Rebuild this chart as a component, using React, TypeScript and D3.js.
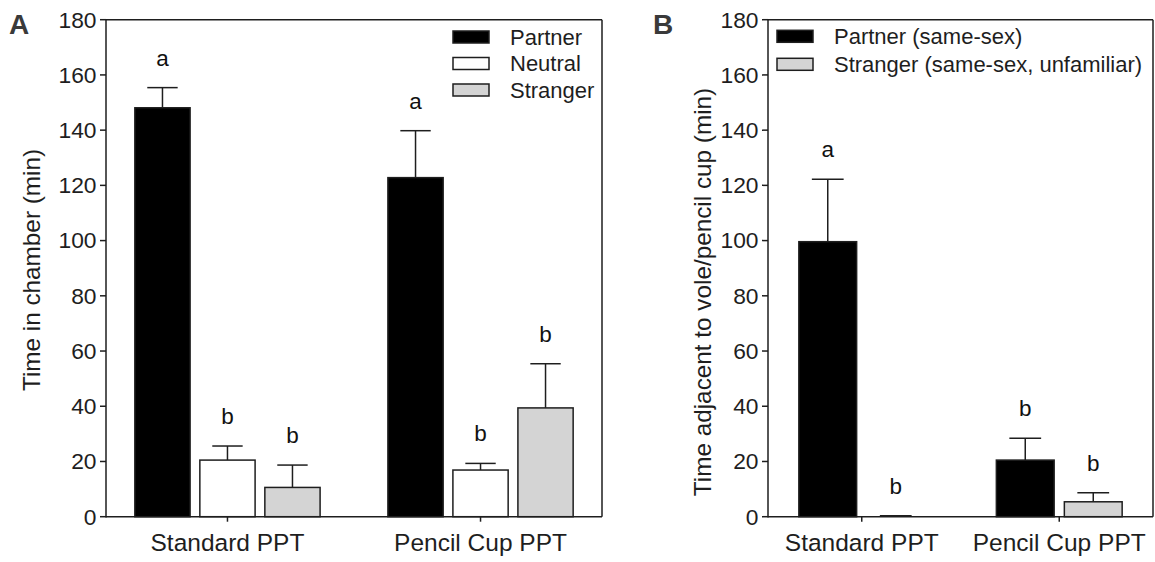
import React from "react";
import * as d3 from "d3";

// ---------- data ----------
const categories = ["Standard PPT", "Pencil Cup PPT"];
const yTicks = [0, 20, 40, 60, 80, 100, 120, 140, 160, 180];

// Panel A
const seriesA = ["Partner", "Neutral", "Stranger"];
const partnerA = [148.1, 122.8];
const partnerASem = [7.3, 17.0];
const neutralA = [20.5, 16.9];
const neutralASem = [5.1, 2.4];
const strangerA = [10.6, 39.4];
const strangerASem = [8.1, 16.0];
const lettersPartnerA = ["a", "a"];
const lettersNeutralA = ["b", "b"];
const lettersStrangerA = ["b", "b"];

// Panel B
const seriesB = ["Partner (same-sex)", "Stranger (same-sex, unfamiliar)"];
const partnerB = [99.6, 20.5];
const partnerBSem = [22.6, 7.9];
const strangerB = [0, 5.4];
const strangerBSem = [0.3, 3.3];
const lettersPartnerB = ["a", "b"];
const lettersStrangerB = ["b", "b"];

const fills = ["#000000", "#ffffff", "#d4d4d4"];
const fillsB = ["#000000", "#d4d4d4"];

const FONT = "'Liberation Sans', Arial, Helvetica, sans-serif";
const INK = "#1e1e1e";

type Series = { name: string; fill: string; values: number[]; sem: number[]; letters: string[] };

function Panel(props: {
  x0: number; x1: number; y0: number; y1: number;
  series: Series[]; pointPad: number; groupHalf: number;
  title: string; titleX: number; titleY: number;
  label: string; labelX: number;
  legendX: number; legendY: number; legendStep: number;
}) {
  const { x0, x1, y0, y1, series } = props;
  const y = d3.scaleLinear().domain([0, 180]).range([y0, y1]);
  const xc = d3.scalePoint<string>().domain(categories).range([x0, x1]).padding(props.pointPad);
  const inner = d3
    .scaleBand<string>()
    .domain(series.map((s) => s.name))
    .range([-props.groupHalf, props.groupHalf])
    .paddingInner(0.15)
    .paddingOuter(0.075);
  const bw = inner.bandwidth();
  const cap = bw * 0.55;

  return (
    <g fontFamily={FONT} fill={INK}>
      {/* bars */}
      {series.map((s) =>
        categories.map((c, i) => {
          const cx = (xc(c) as number) + (inner(s.name) as number);
          const v = s.values[i];
          const top = y(v);
          const et = y(v + s.sem[i]);
          const mid = cx + bw / 2;
          return (
            <g key={s.name + c}>
              <line x1={mid} x2={mid} y1={top} y2={et} stroke={INK} strokeWidth={1.5} />
              <line x1={mid - cap / 2} x2={mid + cap / 2} y1={et} y2={et} stroke={INK} strokeWidth={1.5} />
              {v > 0 && (
                <rect x={cx} y={top} width={bw} height={y0 - top} fill={s.fill} stroke={INK} strokeWidth={1.5} />
              )}
              <text x={mid} y={et - 22} textAnchor="middle" fontSize={22.5} fill="#111">
                {s.letters[i]}
              </text>
            </g>
          );
        })
      )}
      {/* frame */}
      <line x1={x0} x2={x1} y1={y1} y2={y1} stroke={INK} strokeWidth={1.5} />
      <line x1={x1} x2={x1} y1={y1} y2={y0} stroke={INK} strokeWidth={1.5} />
      {/* axes */}
      <line x1={x0} x2={x0} y1={y1 - 0.75} y2={y0 + 0.75} stroke={INK} strokeWidth={1.5} />
      <line x1={x0} x2={x1} y1={y0} y2={y0} stroke={INK} strokeWidth={1.5} />
      {yTicks.map((t) => (
        <g key={t}>
          <line x1={x0 - 6} x2={x0} y1={y(t)} y2={y(t)} stroke={INK} strokeWidth={1.5} />
          <text x={x0 - 9.5} y={y(t) + 7.9} textAnchor="end" fontSize={22.8}>
            {t}
          </text>
        </g>
      ))}
      {categories.map((c) => (
        <g key={c}>
          <line x1={xc(c)} x2={xc(c)} y1={y0} y2={y0 + 5} stroke={INK} strokeWidth={1.5} />
          <text x={xc(c)} y={y0 + 34.5} textAnchor="middle" fontSize={24.5}>
            {c}
          </text>
        </g>
      ))}
      <text
        transform={`translate(${props.titleX},${props.titleY}) rotate(-90)`}
        textAnchor="middle"
        fontSize={24.3}
      >
        {props.title}
      </text>
      <text x={props.labelX} y={33.5} fontSize={28} fontWeight="bold" fill="#3a3a3a">
        {props.label}
      </text>
      {/* legend */}
      {series.map((s, i) => (
        <g key={"lg" + s.name} transform={`translate(${props.legendX},${props.legendY + i * props.legendStep})`}>
          <rect x={0} y={-6} width={36} height={12} fill={s.fill} stroke={INK} strokeWidth={1.5} />
          <text x={57} y={7.8} fontSize={22}>
            {s.name}
          </text>
        </g>
      ))}
    </g>
  );
}

export default function App() {
  const seriesAData: Series[] = [
    { name: seriesA[0], fill: fills[0], values: partnerA, sem: partnerASem, letters: lettersPartnerA },
    { name: seriesA[1], fill: fills[1], values: neutralA, sem: neutralASem, letters: lettersNeutralA },
    { name: seriesA[2], fill: fills[2], values: strangerA, sem: strangerASem, letters: lettersStrangerA },
  ];
  const seriesBData: Series[] = [
    { name: seriesB[0], fill: fillsB[0], values: partnerB, sem: partnerBSem, letters: lettersPartnerB },
    { name: seriesB[1], fill: fillsB[1], values: strangerB, sem: strangerBSem, letters: lettersStrangerB },
  ];
  return (
    <svg
      width={1155}
      height={562}
      style={{ position: "absolute", left: 0, top: 0, background: "#fff" }}
    >
      <rect width={1155} height={562} fill="#fff" />
      <Panel
        x0={106} x1={602} y0={516.7} y1={19.7}
        series={seriesAData} pointPad={0.48} groupHalf={97.5}
        title="Time in chamber (min)" titleX={40} titleY={270}
        label="A" labelX={9}
        legendX={453} legendY={37} legendStep={26.5}
      />
      <Panel
        x0={768} x1={1153} y0={516.7} y1={19.7}
        series={seriesBData} pointPad={0.4747} groupHalf={68}
        title="Time adjacent to vole/pencil cup (min)" titleX={711} titleY={292}
        label="B" labelX={653}
        legendX={777} legendY={36.3} legendStep={28}
      />
    </svg>
  );
}
